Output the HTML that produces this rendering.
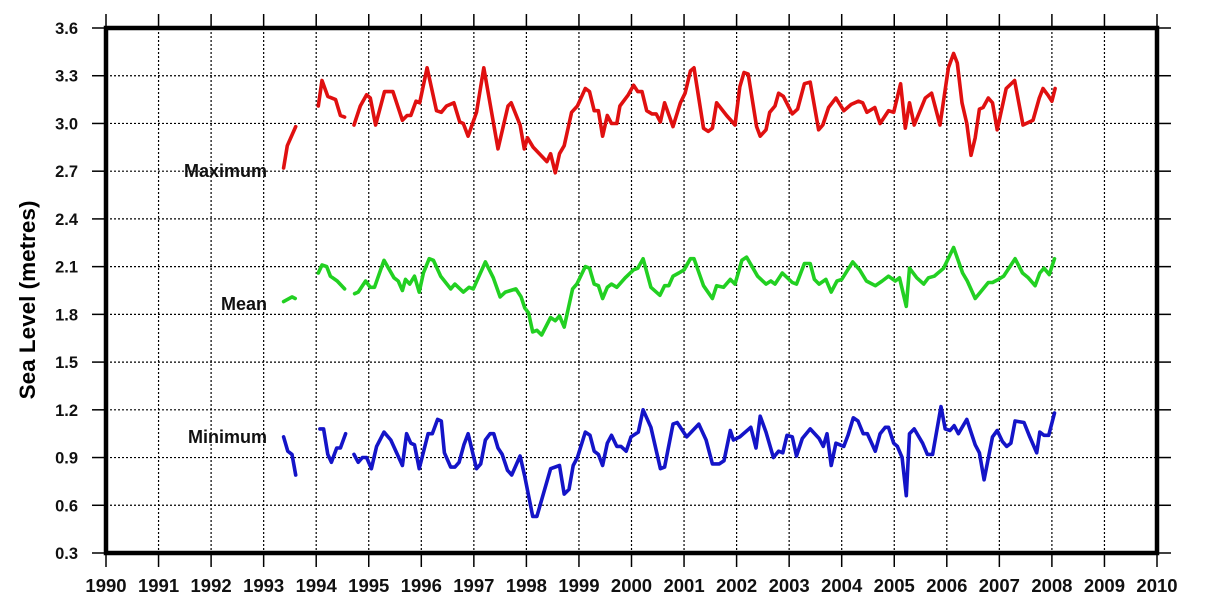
<!DOCTYPE html>
<html><head><meta charset="utf-8"><style>
html,body{margin:0;padding:0;background:#fff;}
svg{display:block;font-family:"Liberation Sans",Arial,sans-serif;}
</style></head><body>
<svg id="chart" width="1213" height="605" viewBox="0 0 1213 605" xmlns="http://www.w3.org/2000/svg">
<g id="grid"></g>
<g id="ticks"></g>
<g id="series"></g>
<rect x="106" y="28" width="1051" height="525" fill="none" stroke="#000" stroke-width="4.5"/>
<text transform="translate(35,300) rotate(-90)" text-anchor="middle" font-size="22.5" font-weight="bold">Sea Level (metres)</text>
<text x="267" y="177" text-anchor="end" font-size="18" font-weight="bold" fill="#111">Maximum</text>
<text x="267" y="310" text-anchor="end" font-size="18" font-weight="bold" fill="#111">Mean</text>
<text x="267" y="443" text-anchor="end" font-size="18" font-weight="bold" fill="#111">Minimum</text>
</svg>
<script>
const xTicks = [1990,1991,1992,1993,1994,1995,1996,1997,1998,1999,2000,2001,2002,2003,2004,2005,2006,2007,2008,2009,2010];
const yTicks = [0.3,0.6,0.9,1.2,1.5,1.8,2.1,2.4,2.7,3.0,3.3,3.6];
const yTickLabels = ["0.3","0.6","0.9","1.2","1.5","1.8","2.1","2.4","2.7","3.0","3.3","3.6"];

const maxTimes = [1993.38,1993.45,1993.61,null,1994.04,1994.11,1994.22,1994.37,1994.46,1994.54,null,
1994.72,1994.84,1994.96,1995.03,1995.13,1995.30,1995.46,1995.64,1995.73,1995.80,1995.90,1995.97,1996.11,1996.29,1996.38,1996.48,1996.62,1996.73,1996.80,1996.89,1997.05,1997.19,1997.46,1997.65,1997.71,1997.88,1997.96,
1998.02,1998.13,1998.39,1998.46,1998.55,1998.63,1998.72,1998.86,1998.97,1999.12,1999.20,1999.29,1999.37,1999.45,1999.54,1999.62,1999.72,1999.78,1999.94,2000.04,2000.12,2000.20,2000.29,2000.39,2000.47,2000.55,2000.63,2000.79,2000.93,2001.02,2001.12,2001.19,2001.37,2001.46,2001.54,2001.62,2001.81,2001.97,2002.06,2002.14,2002.22,2002.38,2002.45,2002.56,2002.63,2002.73,
2002.80,2002.89,2003.06,2003.16,2003.29,2003.40,2003.56,2003.64,2003.75,2003.89,2004.04,2004.18,2004.32,2004.40,2004.48,2004.63,2004.73,2004.89,2004.99,2005.12,2005.21,2005.29,2005.38,2005.59,2005.71,2005.87,2006.03,2006.13,2006.20,2006.29,2006.38,2006.46,2006.54,2006.62,2006.69,2006.79,2006.87,2006.96,2007.13,2007.29,2007.45,2007.64,2007.76,2007.83,2007.92,2008.00,2008.06];
const maxValues = [2.72,2.86,2.98,null,3.11,3.27,3.17,3.15,3.05,3.04,null,
2.99,3.11,3.18,3.16,2.99,3.20,3.20,3.02,3.05,3.05,3.14,3.13,3.35,3.08,3.07,3.11,3.13,3.01,3.00,2.92,3.07,3.35,2.84,3.11,3.13,2.99,2.84,
2.91,2.85,2.76,2.81,2.69,2.81,2.86,3.07,3.11,3.22,3.20,3.08,3.08,2.92,3.05,3.00,3.00,3.11,3.18,3.24,3.20,3.20,3.08,3.06,3.06,3.01,3.13,2.98,3.13,3.19,3.33,3.35,2.97,2.95,2.97,3.13,3.05,2.99,3.23,3.32,3.31,2.98,2.92,2.96,3.07,3.11,
3.19,3.17,3.06,3.09,3.25,3.26,2.96,2.99,3.10,3.16,3.08,3.12,3.14,3.13,3.07,3.10,3.00,3.08,3.07,3.25,2.97,3.13,2.99,3.16,3.19,2.99,3.35,3.44,3.38,3.13,3.00,2.80,2.91,3.09,3.10,3.16,3.13,2.96,3.22,3.27,2.99,3.02,3.16,3.22,3.18,3.14,3.22];

const meanTimes = [1993.38,1993.54,1993.60,null,1994.04,1994.11,1994.20,1994.27,1994.40,1994.54,null,
1994.73,1994.80,1994.94,1995.03,1995.11,1995.29,1995.48,1995.56,1995.64,1995.70,1995.78,1995.87,1995.96,1996.04,1996.15,1996.23,1996.37,1996.56,1996.64,1996.80,1996.91,1996.99,1997.22,1997.37,1997.50,1997.60,1997.80,1997.90,1997.97,
1998.04,1998.12,1998.20,1998.29,1998.46,1998.55,1998.63,1998.72,1998.88,1998.96,1999.12,1999.20,1999.29,1999.37,1999.45,1999.54,1999.62,1999.72,1999.88,2000.04,2000.12,2000.22,2000.37,2000.54,2000.63,2000.71,2000.79,2000.90,2001.00,2001.12,2001.19,2001.37,2001.54,2001.62,2001.75,2001.88,2001.97,2002.10,2002.19,2002.40,2002.56,2002.65,2002.73,
2002.87,2003.06,2003.14,2003.29,2003.40,2003.48,2003.57,2003.70,2003.80,2003.91,2004.00,2004.21,2004.34,2004.47,2004.64,2004.77,2004.89,2005.02,2005.10,2005.23,2005.29,2005.43,2005.56,2005.65,2005.76,2005.94,2006.13,2006.30,2006.39,2006.54,2006.69,2006.79,2006.87,2006.98,2007.08,2007.30,2007.44,2007.55,2007.68,2007.77,2007.85,2007.95,2008.05];
const meanValues = [1.88,1.91,1.90,null,2.06,2.11,2.10,2.04,2.01,1.96,null,
1.93,1.94,2.01,1.97,1.97,2.14,2.03,2.01,1.95,2.02,1.99,2.04,1.94,2.06,2.15,2.14,2.04,1.96,1.99,1.94,1.97,1.96,2.13,2.03,1.91,1.94,1.96,1.91,1.84,
1.81,1.69,1.70,1.67,1.78,1.76,1.79,1.72,1.96,1.99,2.10,2.09,1.99,1.98,1.90,1.97,1.99,1.97,2.03,2.08,2.09,2.15,1.97,1.92,1.98,1.98,2.04,2.06,2.08,2.15,2.15,1.98,1.90,1.98,1.97,2.02,1.99,2.14,2.16,2.04,1.99,2.01,1.99,
2.06,2.00,1.99,2.12,2.12,2.02,1.99,2.02,1.94,2.01,2.02,2.13,2.08,2.01,1.98,2.01,2.04,2.01,2.03,1.85,2.09,2.03,1.99,2.03,2.04,2.09,2.22,2.06,2.01,1.90,1.96,2.00,2.00,2.02,2.04,2.15,2.06,2.03,1.98,2.06,2.09,2.05,2.15];

const minTimes = [1993.38,1993.46,1993.54,1993.61,null,1994.07,1994.14,1994.22,1994.29,1994.39,1994.46,1994.56,null,
1994.72,1994.80,1994.88,1994.96,1995.05,1995.15,1995.29,1995.42,1995.64,1995.72,1995.80,1995.87,1995.96,1996.13,1996.21,1996.31,1996.38,1996.44,1996.56,1996.64,1996.72,1996.81,1996.89,1997.05,1997.13,1997.22,1997.31,1997.38,1997.46,1997.54,1997.64,1997.72,1997.88,1997.97,
1998.12,1998.20,1998.46,1998.63,1998.72,1998.81,1998.89,1998.97,1999.12,1999.21,1999.29,1999.37,1999.45,1999.54,1999.62,1999.72,1999.80,1999.90,1999.99,2000.13,2000.22,2000.37,2000.55,2000.63,2000.79,2000.87,2001.05,2001.28,2001.42,2001.54,2001.67,2001.76,2001.88,2001.94,2002.06,2002.27,2002.37,2002.45,2002.56,2002.70,
2002.80,2002.88,2002.96,2003.06,2003.14,2003.25,2003.40,2003.57,2003.65,2003.72,2003.80,2003.89,2004.04,2004.12,2004.22,2004.31,2004.41,2004.49,2004.64,2004.73,2004.83,2004.89,2004.99,2005.06,2005.15,2005.23,2005.29,2005.38,2005.54,2005.63,2005.73,2005.89,2005.97,2006.06,2006.14,2006.22,2006.38,2006.54,2006.62,2006.71,2006.87,2006.96,2007.06,2007.14,2007.22,2007.30,2007.47,2007.58,2007.71,2007.77,2007.85,2007.94,2008.05];
const minValues = [1.03,0.94,0.92,0.79,null,1.08,1.08,0.92,0.87,0.96,0.96,1.05,null,
0.92,0.87,0.90,0.90,0.83,0.97,1.06,1.01,0.85,1.05,0.99,0.98,0.83,1.05,1.05,1.14,1.13,0.93,0.84,0.84,0.87,0.98,1.05,0.83,0.86,1.01,1.05,1.05,0.96,0.92,0.82,0.79,0.91,0.78,
0.53,0.53,0.83,0.85,0.67,0.70,0.85,0.90,1.06,1.04,0.94,0.92,0.85,0.99,1.04,0.97,0.97,0.94,1.03,1.06,1.20,1.09,0.83,0.84,1.11,1.12,1.03,1.11,1.01,0.86,0.86,0.88,1.07,1.01,1.03,1.09,0.96,1.16,1.06,0.90,
0.94,0.93,1.04,1.03,0.91,1.02,1.08,1.02,0.97,1.05,0.85,0.99,0.97,1.04,1.15,1.13,1.05,1.05,0.94,1.05,1.09,1.09,0.99,0.97,0.90,0.66,1.05,1.08,0.99,0.92,0.92,1.22,1.08,1.07,1.10,1.05,1.14,0.98,0.93,0.76,1.03,1.07,1.00,0.97,0.99,1.13,1.12,1.03,0.93,1.06,1.04,1.04,1.18];

const L=106,R=1157,T=28,B=553;
function xScale(t){return L+(t-1990)/20*(R-L);}
function yScale(v){return B-(v-0.3)/3.3*(B-T);}
const NS="http://www.w3.org/2000/svg";
function mk(tag,attrs,parent){const e=document.createElementNS(NS,tag);for(const k in attrs)e.setAttribute(k,attrs[k]);parent.appendChild(e);return e;}
const grid=document.getElementById('grid'),ticks=document.getElementById('ticks'),series=document.getElementById('series');

xTicks.forEach((yr,i)=>{
  const x=xScale(yr);
  if(i>0&&i<xTicks.length-1){
    const g=mk('line',{x1:x,x2:x,y1:T,y2:B,stroke:'#000','stroke-width':1.2,'stroke-dasharray':'2,2'},grid);
    
    
  }
  const t1=mk('line',{x1:x,x2:x,y1:B,y2:B+14,stroke:'#000','stroke-width':1.5},ticks);
  
  
  const t2=mk('line',{x1:x,x2:x,y1:T-14,y2:T,stroke:'#000','stroke-width':1.5},ticks);
  
  
  const lb=mk('text',{x:x,y:592,'text-anchor':'middle','font-size':18.5,'font-weight':'bold',fill:'#111'},ticks);
  lb.textContent=String(yr);
  
  
});
yTicks.forEach((v,i)=>{
  const y=yScale(v);
  if(i>0&&i<yTicks.length-1){
    const g=mk('line',{x1:L,x2:R,y1:y,y2:y,stroke:'#000','stroke-width':1.2,'stroke-dasharray':'2,2'},grid);
    
    
  }
  const t1=mk('line',{x1:L-14,x2:L,y1:y,y2:y,stroke:'#000','stroke-width':1.5},ticks);
  
  
  const t2=mk('line',{x1:R,x2:R+14,y1:y,y2:y,stroke:'#000','stroke-width':1.5},ticks);
  
  
  const lb=mk('text',{x:78,y:y+6,'text-anchor':'end','font-size':16.5,'font-weight':'bold',fill:'#111'},ticks);
  lb.textContent=yTickLabels[i];
  
  
});
function drawSeries(times,vals,color,name){
  let d='',pen=false;
  for(let i=0;i<times.length;i++){
    if(times[i]===null||vals[i]===null){pen=false;continue;}
    d+=(pen?'L':'M')+xScale(times[i]).toFixed(1)+','+yScale(vals[i]).toFixed(1);
    pen=true;
  }
  const p=mk('path',{d:d,fill:'none',stroke:color,'stroke-width':3.6,'stroke-linejoin':'round','stroke-linecap':'round'},series);
  
  
}
drawSeries(maxTimes,maxValues,'#e01010','maximum-line');
drawSeries(meanTimes,meanValues,'#22d022','mean-line');
drawSeries(minTimes,minValues,'#1414c8','minimum-line');
</script>
</body></html>
